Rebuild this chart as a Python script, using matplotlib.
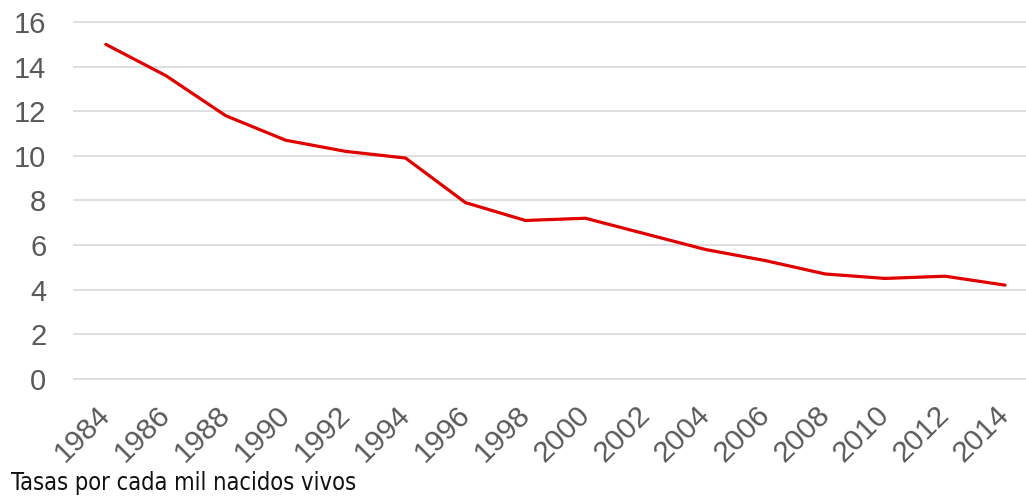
import matplotlib
matplotlib.use("Agg")
import matplotlib.pyplot as plt

years = [1984, 1986, 1988, 1990, 1992, 1994, 1996, 1998, 2000, 2002,
         2004, 2006, 2008, 2010, 2012, 2014]
rates = [15.0, 13.6, 11.8, 10.7, 10.2, 9.9, 7.9, 7.1, 7.2, 6.5,
         5.8, 5.3, 4.7, 4.5, 4.6, 4.2]
yticks = [0, 2, 4, 6, 8, 10, 12, 14, 16]
caption = "Tasas por cada mil nacidos vivos"

fig = plt.figure(figsize=(10.26, 4.96), dpi=100)
ax = fig.add_axes([0.071, 0.2319, 0.929, 0.7281])
ax.plot(years, rates, color="#e00000", linewidth=2.3, solid_capstyle="round", zorder=3)
ax.set_xlim(1982.9, 2014.7)
ax.set_ylim(-0.1, 16.1)
ax.set_yticks(yticks)
ax.set_xticks(years)
ax.set_xticklabels([str(y) for y in years], rotation=45, ha="right", va="center",
                   rotation_mode="anchor", fontfamily="Liberation Sans",
                   fontsize=21.5, color="#595959")
ax.set_yticklabels([str(v) for v in yticks], fontfamily="Liberation Sans",
                   fontsize=21, color="#595959")
ax.tick_params(axis="both", length=0)
ax.tick_params(axis="y", pad=19)
ax.tick_params(axis="x", pad=21)
ax.grid(axis="y", color="#d9d9d9", linewidth=1.2)
for s in ax.spines.values():
    s.set_visible(False)
fig.text(0.011, 0.012, caption, fontsize=17, fontfamily="DejaVu Sans",
         fontstretch="condensed", color="#111111", ha="left", va="baseline")
fig.savefig("out.png", dpi=100)
